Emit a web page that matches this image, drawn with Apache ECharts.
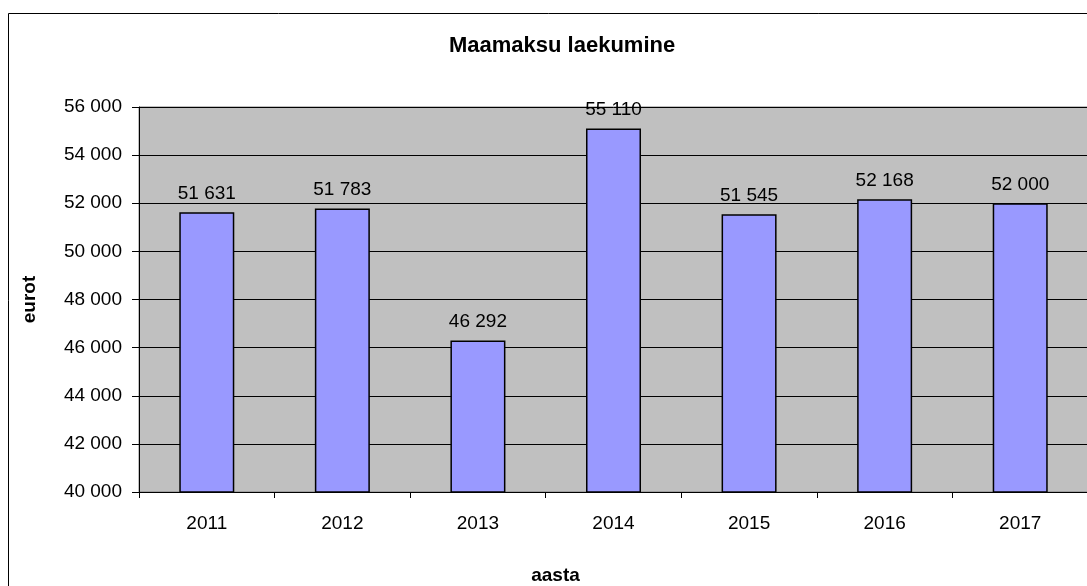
<!DOCTYPE html>
<html>
<head>
<meta charset="utf-8">
<script src="https://cdn.jsdelivr.net/npm/echarts@6/dist/echarts.min.js"></script>
<style>
  html, body { margin: 0; padding: 0; background: #fff; }
  #chart { width: 1087px; height: 586px; }
</style>
</head>
<body>
<div id="chart"></div>
<script>
// andmed
var years = ['2011', '2012', '2013', '2014', '2015', '2016', '2017'];
var receipts = [51631, 51783, 46292, 55110, 51545, 52168, 52000];
var yMin = 40000, yMax = 56000, yStep = 2000;

// "51 631" stiilis tuhandete eraldaja
function fmt(v) {
    return String(Math.round(v)).replace(/\B(?=(\d{3})+(?!\d))/g, ' ');
}

var chart = echarts.init(document.getElementById('chart'));
var font = 'Arial, "Liberation Sans", sans-serif';

chart.setOption({
    animation: false,
    textStyle: { fontFamily: font },
    title: {
        text: 'Maamaksu laekumine',
        left: 444,
        top: 30,
        textStyle: { fontSize: 22, fontWeight: 'bold', color: '#000', fontFamily: font }
    },
    graphic: [{
        type: 'rect',
        shape: { x: 8.5, y: 13.5, width: 1100, height: 600 },
        style: { fill: null, stroke: '#000', lineWidth: 1 },
        z: 100
    }],
    grid: {
        left: 139, right: -1, top: 107, bottom: 94,
        outerBoundsMode: 'none',
        containLabel: false,
        show: true, backgroundColor: '#c0c0c0', borderColor: '#808080', borderWidth: 1
    },
    xAxis: {
        type: 'category',
        data: years,
        name: 'aasta',
        nameLocation: 'middle',
        nameGap: 74,
        // nimi on keskel kogu joonisel, mitte teljel
        nameTextStyle: { fontSize: 19, fontWeight: 'bold', color: '#000', padding: [0, 116, 0, 0] },
        axisLine: { lineStyle: { color: '#000', width: 1 } },
        axisTick: { show: true, length: 6, lineStyle: { color: '#000' } },
        axisLabel: { fontSize: 19, color: '#000', margin: 22 }
    },
    yAxis: {
        type: 'value',
        min: yMin, max: yMax, interval: yStep,
        name: 'eurot',
        nameLocation: 'middle',
        nameRotate: 90,
        nameGap: 100,
        nameTextStyle: { fontSize: 19, fontWeight: 'bold', color: '#000' },
        axisLine: { show: true, lineStyle: { color: '#000', width: 1 } },
        axisTick: { show: true, length: 7, lineStyle: { color: '#000' } },
        axisLabel: { fontSize: 19, color: '#000', margin: 17, formatter: fmt },
        splitLine: { show: true, lineStyle: { color: '#000', width: 1 } }
    },
    series: [{
        type: 'bar',
        data: receipts,
        barWidth: 55,
        itemStyle: { color: '#9999ff', borderColor: '#000', borderWidth: 1.5 },
        label: {
            show: true, position: 'top', distance: 9,
            fontSize: 19, color: '#000',
            formatter: function (p) { return fmt(p.value); }
        }
    }]
});
</script>
</body>
</html>
